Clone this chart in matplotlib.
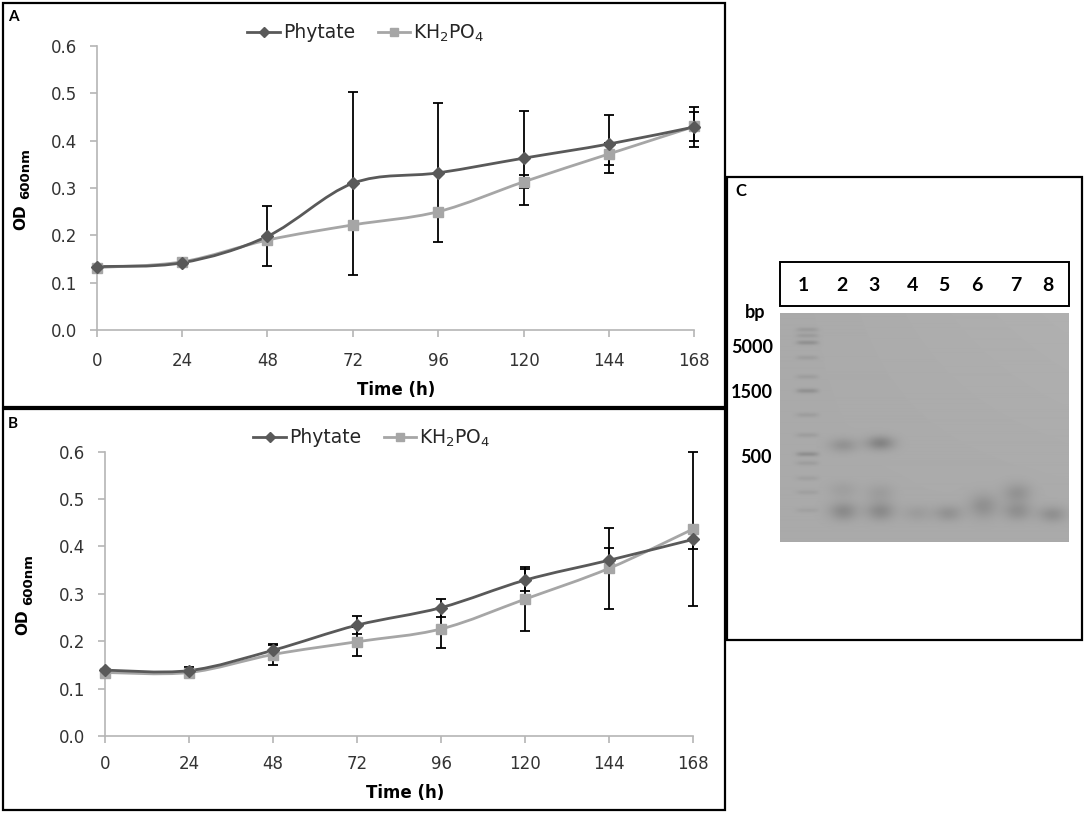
import numpy as np
import matplotlib
matplotlib.use('Agg')
import matplotlib.pyplot as plt
from matplotlib.path import Path
from matplotlib.patches import PathPatch, Rectangle
from matplotlib.lines import Line2D

plt.rcParams['font.family'] = ['DejaVu Sans']
plt.rcParams['mathtext.fontset'] = 'dejavusans'

# ---------------- data ----------------
time_h = [0, 24, 48, 72, 96, 120, 144, 168]
y_ticks = [0.0, 0.1, 0.2, 0.3, 0.4, 0.5, 0.6]
y_tick_labels = ['0.0', '0.1', '0.2', '0.3', '0.4', '0.5', '0.6']
series_names = ['Phytate', 'KH$_2$PO$_4$']

a_phytate = [0.134, 0.142, 0.198, 0.310, 0.332, 0.363, 0.393, 0.429]
a_phytate_err = [0.0, 0.0, 0.063, 0.193, 0.147, 0.099, 0.061, 0.043]
a_kh2po4 = [0.132, 0.144, 0.190, 0.222, 0.250, 0.313, 0.372, 0.430]
a_kh2po4_err = [0.0, 0.0, 0.0, 0.0, 0.0, 0.014, 0.023, 0.030]

b_phytate = [0.139, 0.138, 0.181, 0.234, 0.271, 0.329, 0.371, 0.415]
b_phytate_err = [0.0, 0.008, 0.012, 0.019, 0.019, 0.024, 0.026, 0.020]
b_kh2po4 = [0.134, 0.134, 0.172, 0.199, 0.226, 0.289, 0.354, 0.437]
b_kh2po4_err = [0.0, 0.0, 0.022, 0.030, 0.041, 0.068, 0.086, 0.162]

# gel (panel C)
lane_labels = ['1', '2', '3', '4', '5', '6', '7', '8']
size_labels = ['bp', '5000', '1500', '500']
ladder_band_y = [17, 23, 30, 45, 64, 78, 102, 122, 141, 150, 165, 179, 197]
ladder_band_strength = [0.06, 0.06, 0.10, 0.05, 0.05, 0.10, 0.05, 0.05, 0.11, 0.05, 0.04, 0.04, 0.035]
sample_band_lane = [2, 2, 2, 3, 3, 3, 4, 5, 6, 7, 7, 8]
sample_band_y = [132, 177, 198, 130, 180, 198, 200, 200, 193, 180, 198, 201]
sample_band_height = [7, 8, 9, 7, 9, 9, 8, 8, 12, 10, 9, 8]
sample_band_strength = [0.09, 0.04, 0.12, 0.15, 0.05, 0.12, 0.05, 0.09, 0.10, 0.09, 0.10, 0.10]

# ---------------- figure ----------------
W, H = 1084, 813
fig = plt.figure(figsize=(W / 100, H / 100), dpi=100)
fig.patch.set_facecolor('white')


def fx(x):
    return x / W


def fy(y):
    return 1 - y / H


def rect_px(x0, y0, x1, y1, lw=1.6):
    r = Rectangle((fx(x0), fy(y1)), (x1 - x0) / W, (y1 - y0) / H,
                  transform=fig.transFigure, fill=False, ec='black', lw=lw)
    fig.add_artist(r)


DARK = '#595959'
LIGHT = '#a6a6a6'
TXT = '#333333'


def smooth_path(x, y):
    x = np.asarray(x, float)
    y = np.asarray(y, float)
    n = len(x)
    verts = [(x[0], y[0])]
    codes = [Path.MOVETO]
    for i in range(n - 1):
        xp, yp = (x[i - 1], y[i - 1]) if i > 0 else (x[i], y[i])
        xn, yn = (x[i + 2], y[i + 2]) if i + 2 < n else (x[i + 1], y[i + 1])
        c1 = (x[i] + (x[i + 1] - xp) / 6, y[i] + (y[i + 1] - yp) / 6)
        c2 = (x[i + 1] - (xn - x[i]) / 6, y[i + 1] - (yn - y[i]) / 6)
        verts += [c1, c2, (x[i + 1], y[i + 1])]
        codes += [Path.CURVE4] * 3
    return Path(verts, codes)


def draw_panel(ax, phy, phy_err, kh, kh_err, xpad):
    ax.set_xlim(0, 168)
    ax.set_ylim(0, 0.6)
    ax.set_xticks(time_h)
    ax.set_yticks(y_ticks)
    ax.set_yticklabels(y_tick_labels)
    for s in ['top', 'right']:
        ax.spines[s].set_visible(False)
    for s in ['left', 'bottom']:
        ax.spines[s].set_color('#b5b5b5')
        ax.spines[s].set_linewidth(1.2)
    ax.tick_params(axis='both', direction='out', length=5, width=1.2,
                   color='#b5b5b5', labelcolor=TXT, labelsize=12)
    ax.tick_params(axis='y', pad=9)
    ax.tick_params(axis='x', pad=xpad)

    for vals, col in [(kh, LIGHT), (phy, DARK)]:
        ax.add_patch(PathPatch(smooth_path(time_h, vals), fill=False,
                               ec=col, lw=2.0, zorder=3, clip_on=False))

    for vals, err in [(phy, phy_err), (kh, kh_err)]:
        t = np.asarray(time_h, float)
        v = np.asarray(vals, float)
        e = np.asarray(err, float)
        m = e > 0
        ax.errorbar(t[m], v[m], yerr=e[m], fmt='none', ecolor='black',
                    elinewidth=1.3, capsize=3.6, capthick=1.3, zorder=3.5,
                    clip_on=False)

    for vals, col, mk, ms in [(kh, LIGHT, 's', 7.5), (phy, DARK, 'D', 6.5)]:
        ax.plot(time_h, vals, ls='none', marker=mk, ms=ms, color=col,
                mec=col, zorder=4, clip_on=False)


def add_legend(ax, cx, cy):
    handles = [
        Line2D([], [], color=DARK, lw=2.0, marker='D', ms=5, mec=DARK),
        Line2D([], [], color=LIGHT, lw=2.0, marker='s', ms=6, mec=LIGHT),
    ]
    ax.legend(handles, series_names, loc='center', bbox_to_anchor=(fx(cx), fy(cy)),
              bbox_transform=fig.transFigure, ncol=2, frameon=False, fontsize=13.5,
              handlelength=1.75, handletextpad=0.15, columnspacing=1.2,
              labelcolor='#262626', borderaxespad=0, borderpad=0)


def od_label(x_od, y_od, x_sub, y_sub):
    fig.text(fx(x_od), fy(y_od), 'OD', rotation=90, ha='center', va='center',
             fontsize=11, fontweight='bold', color='black')
    fig.text(fx(x_sub), fy(y_sub), '600nm', rotation=90, ha='center',
             va='center', fontsize=9.5, fontweight='bold', color='black')


# Panel A
axA = fig.add_axes([fx(96.7), fy(330), (694.4 - 96.7) / W, (330 - 46) / H])
draw_panel(axA, a_phytate, a_phytate_err, a_kh2po4, a_kh2po4_err, xpad=11)
add_legend(axA, 366, 33)
od_label(20.5, 217.5, 26, 174)
fig.text(fx(396), fy(390), 'Time (h)', ha='center', va='center',
         fontsize=12, fontweight='bold', color='black')
fig.text(fx(8), fy(17), 'A', ha='left', va='center', fontsize=11,
         fontweight='bold', family='Lato')

# Panel B
axB = fig.add_axes([fx(105), fy(736), (693.3 - 105) / W, (736 - 451.7) / H])
draw_panel(axB, b_phytate, b_phytate_err, b_kh2po4, b_kh2po4_err, xpad=9)
add_legend(axB, 372, 438)
od_label(23, 622, 28.5, 580)
fig.text(fx(405), fy(793), 'Time (h)', ha='center', va='center',
         fontsize=12, fontweight='bold', color='black')
fig.text(fx(8), fy(424), 'B', ha='left', va='center', fontsize=11,
         fontweight='bold', family='Lato')

# panel frames
rect_px(3, 3, 725, 407)
rect_px(3, 409, 725, 810)
rect_px(727, 177, 1082, 640)

# Panel C : gel
fig.text(fx(735), fy(191), 'C', ha='left', va='center', fontsize=12,
         fontweight='bold', family='Lato')
rect_px(780, 262, 1069, 306, lw=1.4)
lane_label_x = [803, 842, 874, 913, 944, 977, 1016, 1048]
for lx, lab in zip(lane_label_x, lane_labels):
    fig.text(fx(lx), fy(285), lab, ha='center', va='center', fontsize=14,
             fontweight='bold', family='Lato')
size_label_pos = [(755, 312), (752, 347), (752, 392), (756, 457)]
for (sx, sy), lab in zip(size_label_pos, size_labels):
    fig.text(fx(sx), fy(sy), lab, ha='center', va='center', fontsize=13,
             fontweight='bold', family='Lato')

gw, gh = 289, 229
lane_x = [27, 63, 100, 137, 168, 203, 237, 272]
yy, xx = np.mgrid[0:gh, 0:gw].astype(float)
gel = np.full((gh, gw), 0.665)
gel += 0.025 * (1 - yy / gh) * (xx / gw)
for by, bs in zip(ladder_band_y, ladder_band_strength):
    gel -= bs * np.exp(-((xx - lane_x[0]) / 11.0) ** 4) * np.exp(-((yy - by) / 2.2) ** 2)
for ln, by, bh, bs in zip(sample_band_lane, sample_band_y, sample_band_height,
                          sample_band_strength):
    cx = lane_x[ln - 1]
    gel -= bs * np.exp(-((xx - cx) / 14.0) ** 2) * np.exp(-((yy - by) / bh) ** 2)
axG = fig.add_axes([fx(780), fy(542), gw / W, gh / H])
axG.imshow(gel, cmap='gray', vmin=0, vmax=1, aspect='auto',
           interpolation='bilinear')
axG.set_axis_off()

fig.savefig('out.png', dpi=100)
